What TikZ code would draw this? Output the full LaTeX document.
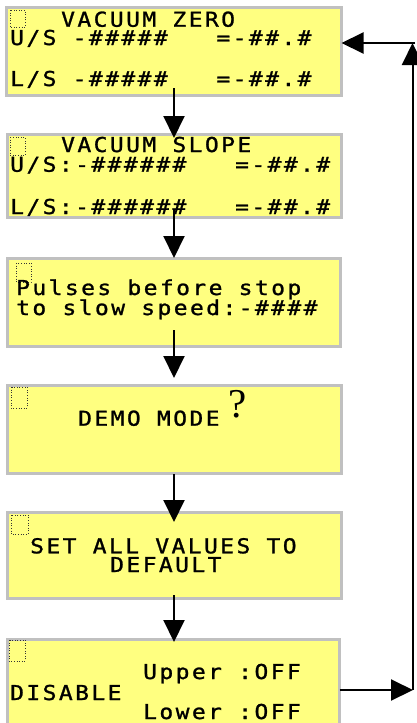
\documentclass[tikz,border=0pt]{standalone}
\usepackage{fontspec}
\usetikzlibrary{arrows.meta}
\newfontfamily\lcdfont[FakeStretch=1.12,LetterSpace=11.8,FakeBold=1.2]{DejaVu Sans Mono}
\newfontfamily\qfont{Liberation Serif}
\definecolor{lcdyellow}{HTML}{FFFF80}
\definecolor{lcdgray}{HTML}{C0C0C0}
\tikzset{
  lcdbox/.style={draw=lcdgray, line width=3pt, fill=lcdyellow, inner sep=0pt, outer sep=0pt},
  lcdtext/.style={anchor=base west, inner sep=0pt, font=\lcdfont\fontsize{20.5}{20.5}\selectfont},
  arr/.style={line width=2pt, -{Triangle[length=22pt,width=21pt]}},
  sq/.style={draw=black!80, line width=0.6pt, dotted},
}
\begin{document}
\begin{tikzpicture}[x=1pt,y=-1pt]
\useasboundingbox (0,0) rectangle (417,723);
% boxes
\node[lcdbox, minimum width=335pt, minimum height=88pt] (b1) at (174,51.5) {};
\node[lcdbox, minimum width=334pt, minimum height=83pt] (b2) at (174.5,176) {};
\node[lcdbox, minimum width=333pt, minimum height=88pt] (b3) at (174,302.5) {};
\node[lcdbox, minimum width=334pt, minimum height=88pt] (b4) at (174.5,429.5) {};
\node[lcdbox, minimum width=334pt, minimum height=86pt] (b5) at (174.5,555.5) {};
\node[lcdbox, minimum width=332pt, minimum height=85pt] (b6) at (173.5,682) {};
% cursor squares
\draw[sq] (10,10) rectangle (25,27);
\draw[sq] (10,137) rectangle (25,155);
\draw[sq] (16,263) rectangle (31,282);
\draw[sq] (11,387) rectangle (27,408);
\draw[sq] (11,515) rectangle (28,534);
\draw[sq] (9,640) rectangle (25,661);
% texts
\node[lcdtext] (t1a) at (61,26.7) {VACUUM ZERO};
\node[lcdtext] (t1b) at (10,45) {U/S -\#\#\#\#\#\ \ \ =-\#\#.\#};
\node[lcdtext] (t1c) at (10,86) {L/S -\#\#\#\#\#\ \ \ =-\#\#.\#};
\node[lcdtext] (t2a) at (61,152) {VACUUM SLOPE};
\node[lcdtext] (t2b) at (10,171.7) {U/S:-\#\#\#\#\#\#\ \ \ =-\#\#.\#};
\node[lcdtext] (t2c) at (10,214) {L/S:-\#\#\#\#\#\#\ \ \ =-\#\#.\#};
\node[lcdtext] (t3a) at (16,295) {Pulses before stop};
\node[lcdtext] (t3b) at (16,315) {to slow speed:-\#\#\#\#};
\node[lcdtext] (t4a) at (78,425.7) {DEMO MODE};
\node[anchor=base west, inner sep=0pt, font=\qfont\fontsize{41}{41}\selectfont] (t4q) at (228,417) {?};
\node[lcdtext] (t5a) at (30,553.3) {SET ALL VALUES TO};
\node[lcdtext] (t5b) at (110,572) {DEFAULT};
\node[lcdtext] (t6a) at (10,700) {DISABLE};
\node[lcdtext] (t6b) at (143,679) {Upper :OFF};
\node[lcdtext] (t6c) at (143,719) {Lower :OFF};
% arrows down
\draw[arr] ([yshift=7.5pt]b1.south -| 174,0) -- ([yshift=-3.5pt]b2.north -| 174,0);
\draw[arr] ([yshift=7.5pt]b2.south -| 174,0) -- ([yshift=0.5pt]b3.north -| 174,0);
\draw[arr] ([yshift=16.5pt]b3.south -| 174,0) -- ([yshift=7.5pt]b4.north -| 174,0);
\draw[arr] ([yshift=-0.5pt]b4.south -| 174,0) -- ([yshift=-9.5pt]b5.north -| 174,0);
\draw[arr] ([yshift=3.5pt]b5.south -| 174,0) -- ([yshift=-2.5pt]b6.north -| 174,0);
% return loop
\coordinate (r1) at (413,690);
\coordinate (r2) at (412.5,43);
\coordinate (r3) at (415,43);
\draw[arr] (b6.east |- r1) -- (r1);
\draw[arr] ([xshift=-0.5pt]r1) -- (r2);
\draw[arr] (r3) -- (b1.east |- r3);
\end{tikzpicture}
\end{document}
